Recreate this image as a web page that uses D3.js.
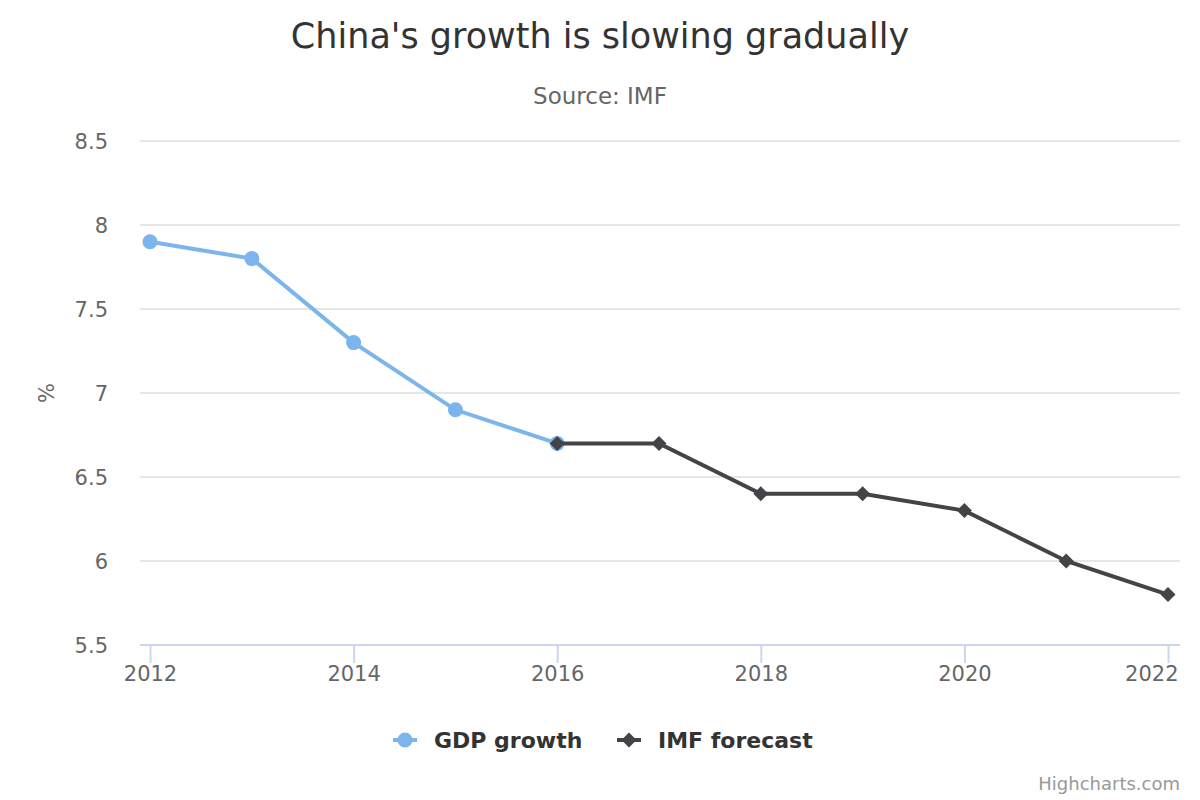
<!DOCTYPE html>
<html><head><meta charset="utf-8">
<script src="https://cdn.jsdelivr.net/npm/d3@7"></script>
<style>html,body{margin:0;padding:0;background:#fff;}svg{display:block;font-family:"DejaVu Sans",sans-serif;}</style>
</head><body>
<svg id="c" width="1200" height="800"></svg>
<script>
const gdpYears = [2012, 2013, 2014, 2015, 2016];
const gdpValues = [7.9, 7.8, 7.3, 6.9, 6.7];
const forecastYears = [2016, 2017, 2018, 2019, 2020, 2021, 2022];
const forecastValues = [6.7, 6.7, 6.4, 6.4, 6.3, 6.0, 5.8];
const xTicks = [2012, 2014, 2016, 2018, 2020, 2022];
const yTicks = [5.5, 6, 6.5, 7, 7.5, 8, 8.5];
const seriesNames = ["GDP growth", "IMF forecast"];
const colors = ["#7cb5ec", "#434348"];

const svg = d3.select("#c");
const plotL = 140, plotR = 1180, plotT = 141, plotB = 645;
const x = d3.scaleLinear().domain([2012, 2022]).range([150, 1168]);
const y = d3.scaleLinear().domain([5.5, 8.5]).range([plotB, plotT]);

// title
svg.append("text").attr("x", 600).attr("y", 48).attr("text-anchor", "middle")
  .attr("fill", "#333").style("font-size", "35px").text("China's growth is slowing gradually");
svg.append("text").attr("x", 600).attr("y", 104).attr("text-anchor", "middle")
  .attr("fill", "#666").style("font-size", "23px").text("Source: IMF");

// grid
svg.append("g").selectAll("line").data(yTicks.filter(d => d !== 5.5)).join("line")
  .attr("x1", plotL).attr("x2", plotR).attr("y1", d => y(d)).attr("y2", d => y(d))
  .attr("stroke", "#e6e6e6").attr("stroke-width", 2);

// y axis labels
const yAxis = d3.axisLeft(y).tickValues(yTicks).tickSize(0).tickPadding(0).tickFormat(d3.format("~g"));
const yg = svg.append("g").attr("transform", `translate(108,0)`).call(yAxis);
yg.select(".domain").remove();
yg.selectAll("text").attr("fill", "#666").style("font-size", "21px").style("font-family", "DejaVu Sans, sans-serif").attr("dy", "0.35em");

svg.append("text").attr("transform", "translate(54,393) rotate(-90)").attr("text-anchor", "middle")
  .attr("fill", "#666").style("font-size", "21px").text("%");

// x axis
const xAxis = d3.axisBottom(x).tickValues(xTicks).tickSize(18).tickPadding(4).tickFormat(d3.format("d"));
const xg = svg.append("g").attr("transform", `translate(0,${plotB})`).call(xAxis);
xg.select(".domain").remove();
xg.selectAll(".tick line").attr("stroke", "#ccd6eb").attr("stroke-width", 2);
xg.selectAll("text").attr("fill", "#666").style("font-size", "21px").style("font-family", "DejaVu Sans, sans-serif").attr("y", 21).attr("dy", "0.71em");
// keep last label inside the chart, as the reference does
xg.selectAll(".tick").filter(d => d === 2022).select("text")
  .attr("text-anchor", "end").attr("x", 1178 - x(2022));
svg.append("line").attr("x1", plotL).attr("x2", plotR).attr("y1", plotB).attr("y2", plotB)
  .attr("stroke", "#ccd6eb").attr("stroke-width", 2);

const line = d3.line().x(d => x(d[0])).y(d => y(d[1]));
const gdp = gdpYears.map((v, i) => [v, gdpValues[i]]);
const fc = forecastYears.map((v, i) => [v, forecastValues[i]]);

svg.append("path").datum(gdp).attr("d", line).attr("fill", "none").attr("stroke", colors[0]).attr("stroke-width", 4);
svg.append("g").selectAll("circle").data(gdp).join("circle")
  .attr("cx", d => x(d[0])).attr("cy", d => y(d[1])).attr("r", 7.5).attr("fill", colors[0]);

svg.append("path").datum(fc).attr("d", line).attr("fill", "none").attr("stroke", colors[1]).attr("stroke-width", 4);
const diamond = (cx, cy, r) => `M${cx},${cy - r}L${cx + r},${cy}L${cx},${cy + r}L${cx - r},${cy}Z`;
svg.append("g").selectAll("path").data(fc).join("path")
  .attr("d", d => diamond(x(d[0]), y(d[1]), 7.5)).attr("fill", colors[1]);

// legend
const lg = svg.append("g");
const legendItems = [{x: 393, name: seriesNames[0], color: colors[0], sym: "circle"},
                     {x: 617, name: seriesNames[1], color: colors[1], sym: "diamond"}];
legendItems.forEach(it => {
  lg.append("line").attr("x1", it.x).attr("x2", it.x + 24).attr("y1", 740).attr("y2", 740)
    .attr("stroke", it.color).attr("stroke-width", 4);
  if (it.sym === "circle") lg.append("circle").attr("cx", it.x + 12).attr("cy", 740).attr("r", 7.5).attr("fill", it.color);
  else lg.append("path").attr("d", diamond(it.x + 12, 740, 7.5)).attr("fill", it.color);
  lg.append("text").attr("x", it.x + 41).attr("y", 748).attr("fill", "#333")
    .style("font-size", "22px").style("font-weight", "bold").text(it.name);
});

svg.append("text").attr("x", 1180).attr("y", 790).attr("text-anchor", "end")
  .attr("fill", "#999").style("font-size", "18px").text("Highcharts.com");
</script>
</body></html>
